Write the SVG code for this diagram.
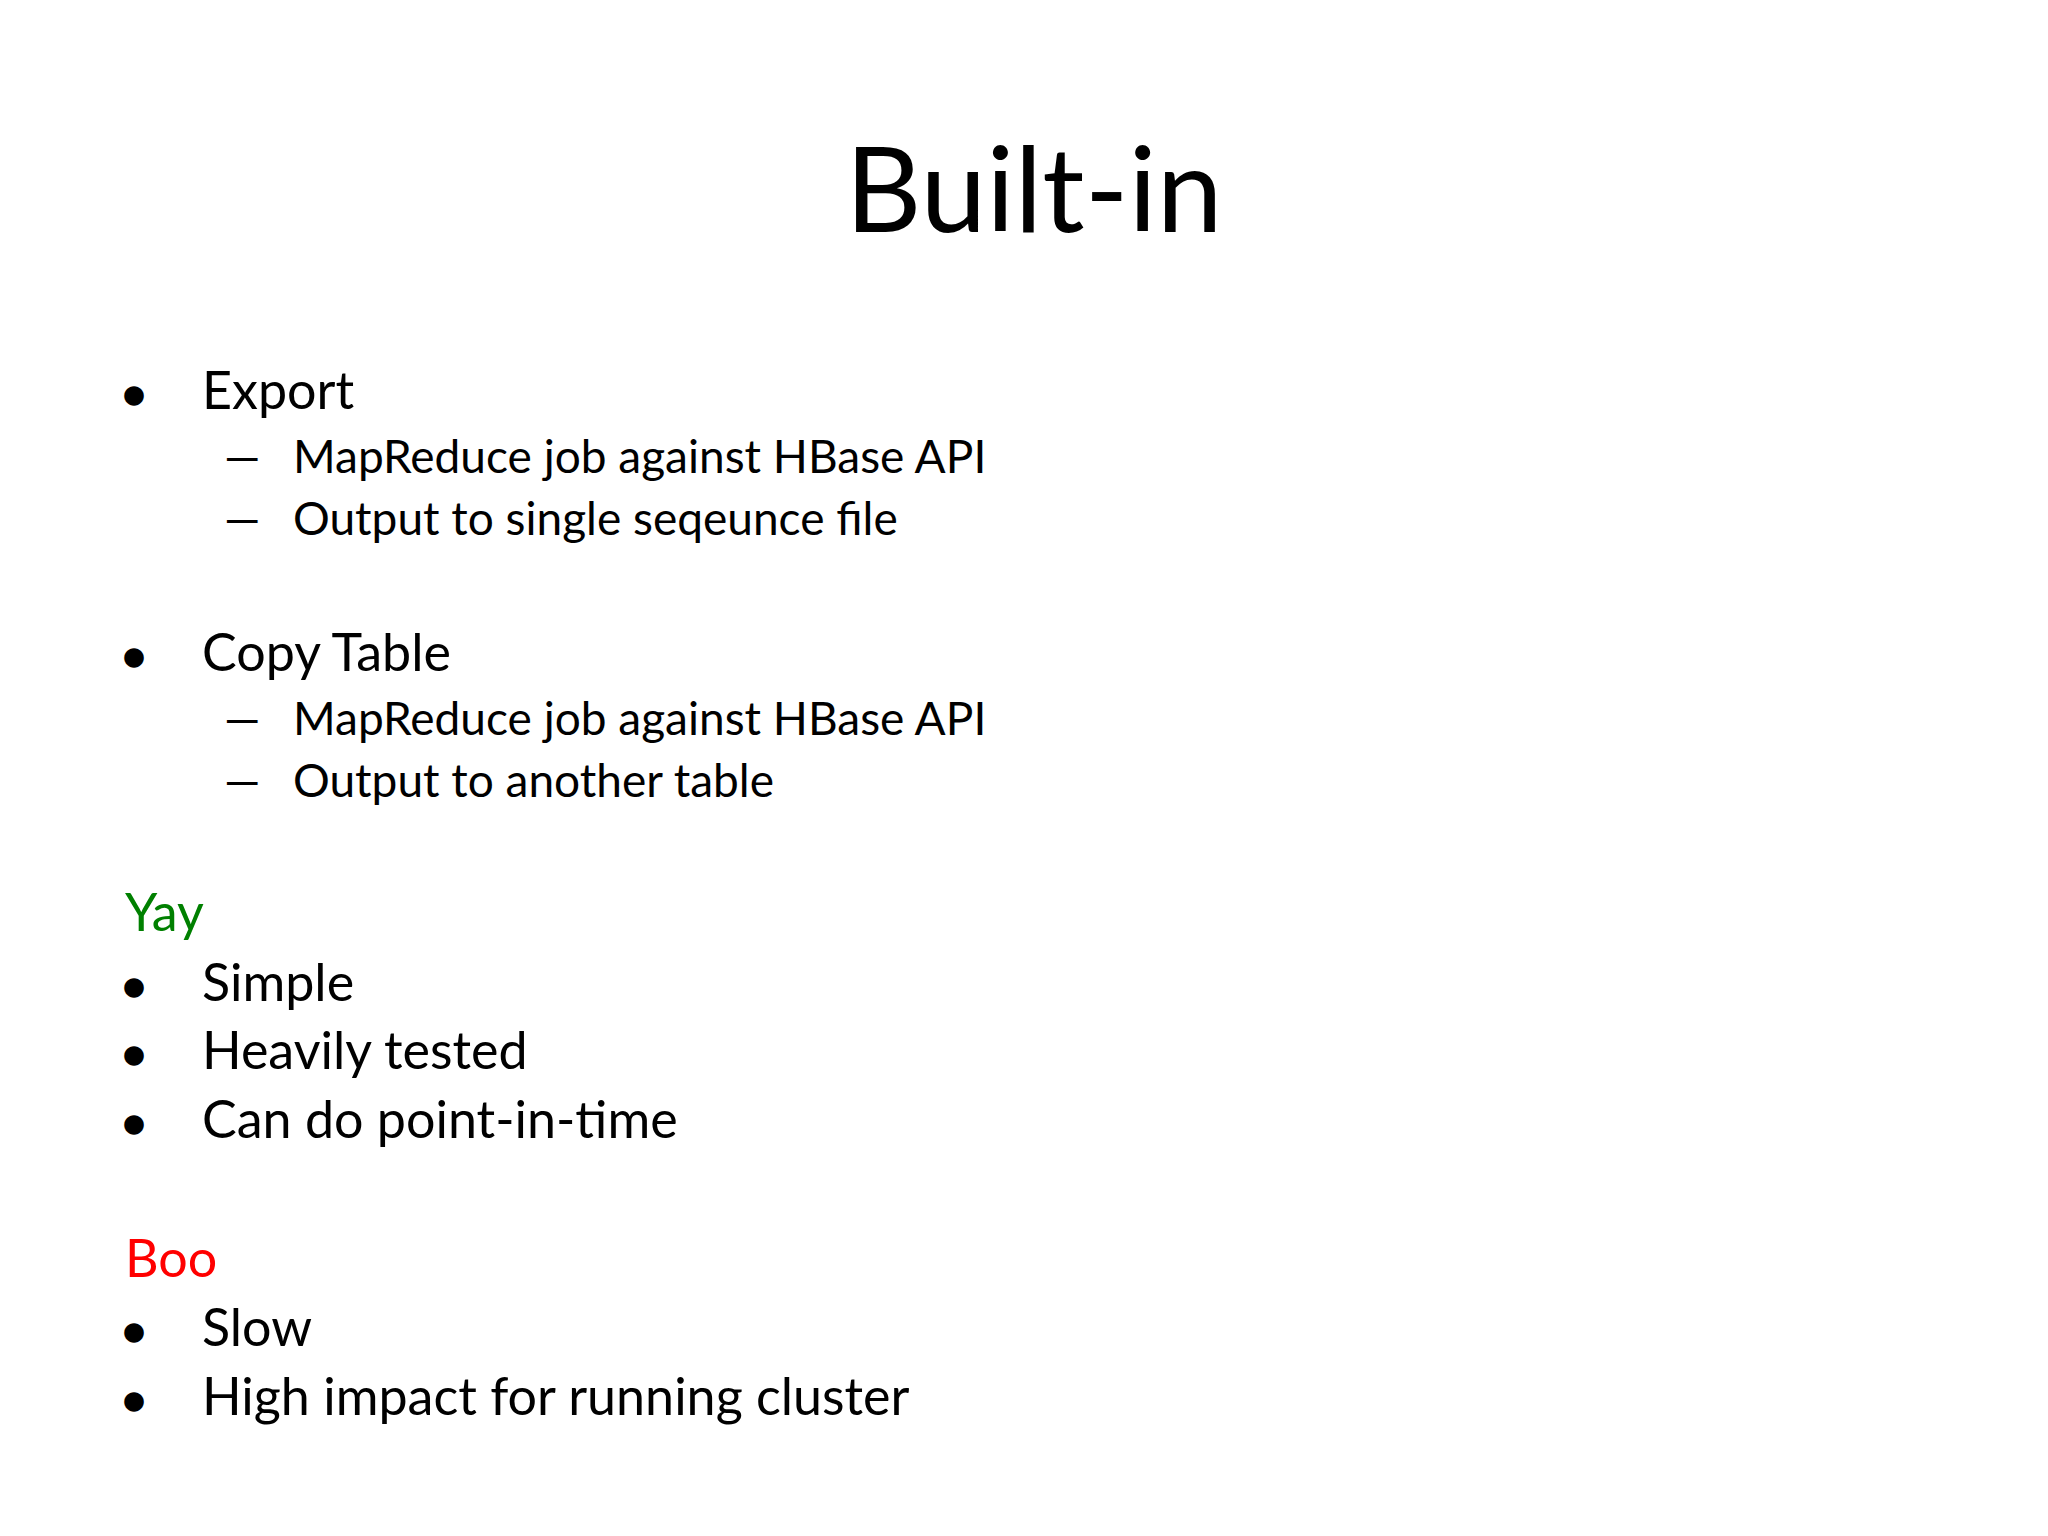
<svg xmlns="http://www.w3.org/2000/svg" width="2048" height="1536" viewBox="0 0 2048 1536">
<style>
text{font-family:Lato,"Open Sans","Liberation Sans",sans-serif;fill:#000}
.t{font-size:118px;text-anchor:middle}
.b{font-size:52px}
.s{font-size:46px}
.d{font-size:40px}
</style>
<rect width="2048" height="1536" fill="#fff"/>
<text class="t" x="1034" y="232">Built-in</text>
<g>
<text class="d" x="122" y="408">●</text><text class="b" x="202" y="409">Export</text>
<text class="s" x="224" y="473">—</text><text class="s" x="293" y="473">MapReduce job against HBase API</text>
<text class="s" x="224" y="535">—</text><text class="s" x="293" y="535">Output to single seqeunce file</text>
<text class="d" x="122" y="670">●</text><text class="b" x="202" y="671">Copy Table</text>
<text class="s" x="224" y="735">—</text><text class="s" x="293" y="735">MapReduce job against HBase API</text>
<text class="s" x="224" y="797">—</text><text class="s" x="293" y="797">Output to another table</text>
<text class="b" x="125" y="931" style="fill:#008000">Yay</text>
<text class="d" x="122" y="1000">●</text><text class="b" x="202" y="1001">Simple</text>
<text class="d" x="122" y="1068">●</text><text class="b" x="202" y="1069">Heavily tested</text>
<text class="d" x="122" y="1137">●</text><text class="b" x="202" y="1138">Can do point-in-time</text>
<text class="b" x="125" y="1277" style="fill:#ff0000">Boo</text>
<text class="d" x="122" y="1345">●</text><text class="b" x="202" y="1346">Slow</text>
<text class="d" x="122" y="1414">●</text><text class="b" x="202" y="1415">High impact for running cluster</text>
</g>
</svg>
